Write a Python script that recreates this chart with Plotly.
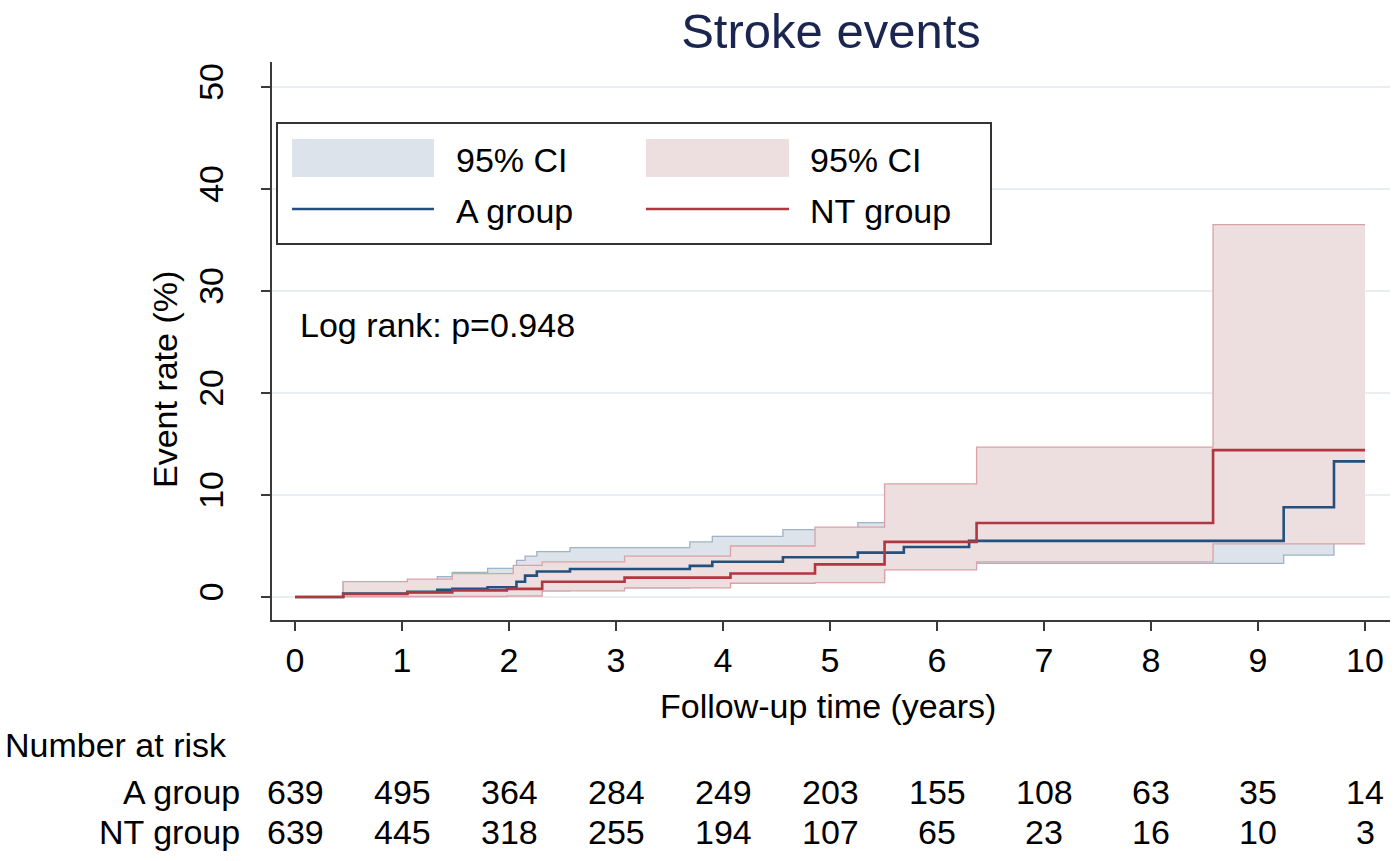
import plotly.graph_objects as go

# ---------------- data ----------------
# A group (blue) cumulative event rate (%) with 95% CI, step breakpoints
a_t     = [0, 0.45, 1.05, 1.33, 1.47, 1.80, 2.07, 2.15, 2.26, 2.57, 3.69, 3.90, 4.07, 4.56, 5.26, 5.51, 5.69, 6.30, 9.24, 9.71, 10.0]
a_rate  = [0, 0.35, 0.50, 0.70, 0.80, 0.95, 1.50, 2.10, 2.50, 2.75, 3.05, 3.45, 3.45, 3.90, 4.35, 4.35, 4.90, 5.50, 8.80, 13.3, 13.3]
a_upper = [0, 1.50, 1.50, 2.00, 2.40, 2.80, 3.60, 4.00, 4.45, 4.85, 5.40, 5.95, 5.95, 6.60, 7.30, 7.60, 8.20, 8.90, 13.0, 20.0, 20.0]
a_lower = [0, 0.05, 0.05, 0.05, 0.15, 0.15, 0.30, 0.40, 0.60, 0.90, 0.95, 1.10, 1.40, 1.45, 1.70, 2.70, 2.75, 3.30, 4.10, 5.40, 5.40]

# NT group (red)
nt_t     = [0, 0.45, 1.05, 1.47, 1.98, 2.04, 2.31, 3.08, 4.07, 4.86, 5.51, 6.37, 8.58, 10.0]
nt_rate  = [0, 0.30, 0.45, 0.65, 0.80, 0.80, 1.50, 1.90, 2.30, 3.20, 5.40, 7.25, 14.4, 14.4]
nt_upper = [0, 1.50, 1.75, 2.30, 2.30, 3.10, 3.45, 4.00, 5.00, 6.85, 11.1, 14.7, 36.5, 36.5]
nt_lower = [0, 0.05, 0.05, 0.05, 0.10, 0.10, 0.60, 0.90, 1.35, 1.40, 2.65, 3.45, 5.20, 5.20]

years   = [0, 1, 2, 3, 4, 5, 6, 7, 8, 9, 10]
risk_a  = [639, 495, 364, 284, 249, 203, 155, 108, 63, 35, 14]
risk_nt = [639, 445, 318, 255, 194, 107, 65, 23, 16, 10, 3]
y_ticks = [0, 10, 20, 30, 40, 50]

title_text = "Stroke events"
x_title = "Follow-up time (years)"
y_title = "Event rate (%)"
logrank_text = "Log rank: p=0.948"
group_names = ["A group", "NT group"]

# ---------------- style ----------------
W, H = 1400, 861
L, R, T, B = 272, 1390, 62, 620   # plot area in pixels
FONT = "Liberation Sans, Arial, Helvetica, sans-serif"
FS = 34
BLUE = "#24507d"
RED = "#b0363f"
BLUE_FILL = "#dce3eb"
RED_FILL = "#eddfe0"
BLUE_EDGE = "#9fb3c8"
RED_EDGE = "#d8a2a8"


def px(x):
    return (x - L) / (R - L)


def py(y):
    return (B - y) / (B - T)


fig = go.Figure()

# A group CI band
fig.add_trace(go.Scatter(x=a_t, y=a_lower, mode="lines", line=dict(color=BLUE_EDGE, width=1.3, shape="hv"),
                         showlegend=False, hoverinfo="skip"))
fig.add_trace(go.Scatter(x=a_t, y=a_upper, mode="lines", line=dict(color=BLUE_EDGE, width=1.3, shape="hv"),
                         fill="tonexty", fillcolor=BLUE_FILL, showlegend=False, hoverinfo="skip"))
# NT group CI band
fig.add_trace(go.Scatter(x=nt_t, y=nt_lower, mode="lines", line=dict(color=RED_EDGE, width=1.3, shape="hv"),
                         showlegend=False, hoverinfo="skip"))
fig.add_trace(go.Scatter(x=nt_t, y=nt_upper, mode="lines", line=dict(color=RED_EDGE, width=1.3, shape="hv"),
                         fill="tonexty", fillcolor=RED_FILL, showlegend=False, hoverinfo="skip"))
# main curves
fig.add_trace(go.Scatter(x=a_t, y=a_rate, mode="lines", line=dict(color=BLUE, width=2.6, shape="hv"),
                         name=group_names[0], showlegend=False))
fig.add_trace(go.Scatter(x=nt_t, y=nt_rate, mode="lines", line=dict(color=RED, width=2.6, shape="hv"),
                         name=group_names[1], showlegend=False))

# axis ranges from pixel geometry: x=0 at px 295, x=10 at px 1365; y=0 at px 597, y=50 at px 87
x0_px, x10_px = 295, 1365
ppu_x = (x10_px - x0_px) / 10.0
xr = [(L - x0_px) / ppu_x, (R - x0_px) / ppu_x]
y0_px, y50_px = 597, 87
ppu_y = (y0_px - y50_px) / 50.0
yr = [(y0_px - B) / ppu_y, (y0_px - T) / ppu_y]

fig.update_layout(
    width=W, height=H,
    margin=dict(l=L, r=W - R, t=T, b=H - B, autoexpand=False),
    plot_bgcolor="white", paper_bgcolor="white",
    font=dict(family=FONT, size=FS, color="black"),
    title=dict(text=title_text, x=(L + R) / 2 / W, xanchor="center", xref="container",
               y=1 - 31 / H, yanchor="middle", yref="container",
               font=dict(family=FONT, size=49, color="#1a2550")),
    showlegend=False,
    xaxis=dict(range=xr, tickmode="array", tickvals=years, ticktext=[str(v) for v in years],
               showgrid=False, zeroline=False, showline=True, linecolor="#3a3a3a", linewidth=2,
               ticks="outside", ticklen=9, tickwidth=2, tickcolor="#3a3a3a",
               tickfont=dict(family=FONT, size=FS, color="black")),
    yaxis=dict(range=yr, tickmode="array", tickvals=y_ticks, ticktext=[str(v) for v in y_ticks],
               showgrid=True, gridcolor="#e9eef3", gridwidth=2, zeroline=False,
               showline=True, linecolor="#3a3a3a", linewidth=2,
               ticks="outside", ticklen=9, tickwidth=2, tickcolor="#3a3a3a", tickangle=-90,
               ticklabelstandoff=24,
               tickfont=dict(family=FONT, size=FS, color="black")),
)

shapes = []
ann = []

# legend box
shapes.append(dict(type="rect", xref="paper", yref="paper", x0=px(277), x1=px(991), y0=py(244), y1=py(123),
                   line=dict(color="#333333", width=2), fillcolor="white", layer="above"))
# swatches
shapes.append(dict(type="rect", xref="paper", yref="paper", x0=px(292), x1=px(434), y0=py(177), y1=py(139),
                   line=dict(width=0), fillcolor=BLUE_FILL, layer="above"))
shapes.append(dict(type="rect", xref="paper", yref="paper", x0=px(646), x1=px(789), y0=py(177), y1=py(139),
                   line=dict(width=0), fillcolor=RED_FILL, layer="above"))
shapes.append(dict(type="line", xref="paper", yref="paper", x0=px(292), x1=px(434), y0=py(209), y1=py(209),
                   line=dict(color=BLUE, width=2.6), layer="above"))
shapes.append(dict(type="line", xref="paper", yref="paper", x0=px(646), x1=px(789), y0=py(209), y1=py(209),
                   line=dict(color=RED, width=2.6), layer="above"))
for xx, yy, txt in [(454, 160, "95% CI"), (808, 160, "95% CI"), (454, 211, group_names[0]), (808, 211, group_names[1])]:
    ann.append(dict(xref="paper", yref="paper", x=px(xx), y=py(yy), text=txt, showarrow=False,
                    xanchor="left", yanchor="middle", font=dict(size=FS)))

# log rank text
ann.append(dict(xref="paper", yref="paper", x=px(298), y=py(325), text=logrank_text, showarrow=False,
                xanchor="left", yanchor="middle", font=dict(size=FS)))

# axis titles
ann.append(dict(xref="paper", yref="paper", x=px(165), y=py(380), text=y_title, showarrow=False,
                textangle=-90, xanchor="center", yanchor="middle", font=dict(size=FS)))
ann.append(dict(xref="paper", yref="paper", x=px(828), y=py(706), text=x_title, showarrow=False,
                xanchor="center", yanchor="middle", font=dict(size=FS)))

# number at risk table
ann.append(dict(xref="paper", yref="paper", x=px(3), y=py(745), text="Number at risk", showarrow=False,
                xanchor="left", yanchor="middle", font=dict(size=FS)))
for name, row, ypx in [(group_names[0], risk_a, 792), (group_names[1], risk_nt, 832)]:
    ann.append(dict(xref="paper", yref="paper", x=px(242), y=py(ypx), text=name, showarrow=False,
                    xanchor="right", yanchor="middle", font=dict(size=FS)))
    for yr_, n in zip(years, row):
        ann.append(dict(xref="x", yref="paper", x=yr_, y=py(ypx), text=str(n), showarrow=False,
                        xanchor="center", yanchor="middle", font=dict(size=FS)))

fig.update_layout(shapes=shapes, annotations=ann)
fig.write_html("out.html", config={"displayModeBar": False},
               post_script="document.body.style.margin='0';")
